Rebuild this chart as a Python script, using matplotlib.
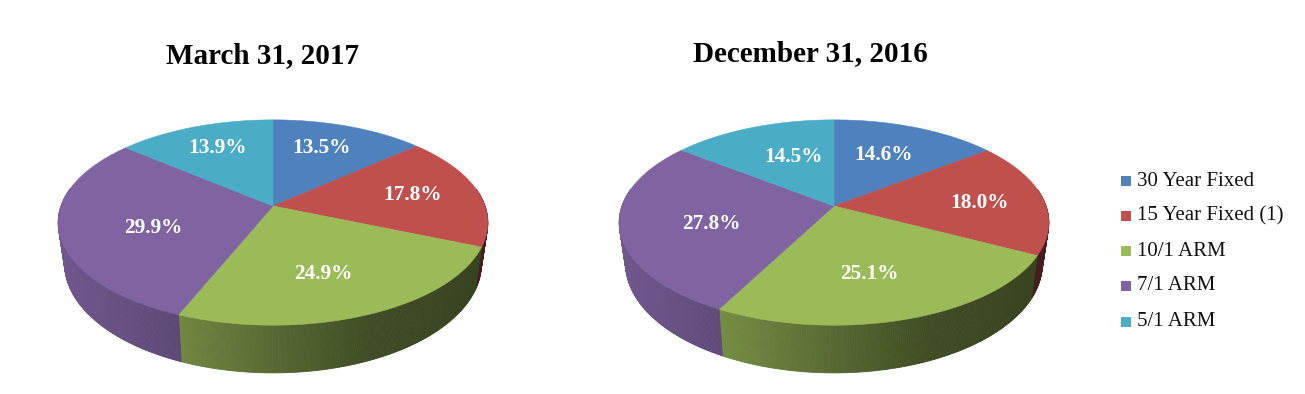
import matplotlib
matplotlib.use("Agg")
import matplotlib.pyplot as plt
import numpy as np

categories = ["30 Year Fixed", "15 Year Fixed (1)", "10/1 ARM", "7/1 ARM", "5/1 ARM"]
march_2017 = [13.5, 17.8, 24.9, 29.9, 13.9]
december_2016 = [14.6, 18.0, 25.1, 27.8, 14.5]
titles = ["March 31, 2017", "December 31, 2016"]

colors = ["#4f81bd", "#c0504d", "#9bbb59", "#8064a2", "#4bacc6"]

# layout, in pixels of the 1305x394 picture
W, H = 1305, 394
centers = [(273, 206), (834, 206)]
title_xy = [(263, 56), (810, 54)]
label_xy = [
    [(322, 148), (413, 195), (323, 274), (153, 228), (218, 148)],
    [(883, 155), (980, 203), (869, 274), (711, 224), (793, 157)],
]
legend_y = [181, 216, 251, 286, 322]
RX, RY, PERSP, DEPTH = 212, 100, 0.161, 40
SERIF = "Liberation Serif"


def project(cx, cy, theta, depth=0.0, shrink=1.0):
    # theta in degrees, clockwise from the top of the pie
    t = np.radians(theta)
    w = 1 + PERSP * np.cos(t)
    x = cx + shrink * RX * np.sin(t) / w
    y = cy + (-RY * np.cos(t) + depth) / w
    return x, y


def shade(x, cx):
    # the side of the pie gets darker from left to right
    t = (x - (cx - RX)) / (2 * RX)
    return np.interp(t, [0, 0.28, 0.56, 0.73, 1], [0.87, 0.72, 0.52, 0.41, 0.36])


def draw_pie(ax, values, cx, cy):
    edges = np.cumsum([0] + list(values)) / sum(values) * 360

    # side walls first, in thin strips so the shading looks continuous
    for i, color in enumerate(colors):
        a0, a1 = max(edges[i], 80), min(edges[i + 1], 280)
        if a1 <= a0:
            continue
        steps = np.arange(a0, a1 + 0.5, 0.5)
        for s0, s1 in zip(steps[:-1], steps[1:]):
            arc = np.array([s0, s1])
            xt, yt = project(cx, cy, arc)
            xb, yb = project(cx, cy, arc, DEPTH, 0.97)
            c = np.array(matplotlib.colors.to_rgb(color)) * shade(xt.mean(), cx)
            ax.fill([xt[0], xt[1], xb[1], xb[0]], [yt[0], yt[1], yb[1], yb[0]],
                    color=c, lw=0.6, zorder=1)

    # top face
    for i, color in enumerate(colors):
        arc = np.linspace(edges[i], edges[i + 1], 120)
        x, y = project(cx, cy, arc)
        ax.fill(np.r_[cx, x], np.r_[cy, y], color=color, lw=0.4, zorder=2)


fig = plt.figure(figsize=(W / 100, H / 100), dpi=100, facecolor="white")
ax = fig.add_axes([0, 0, 1, 1])
ax.set_xlim(0, W)
ax.set_ylim(H, 0)
ax.axis("off")

for k, values in enumerate([march_2017, december_2016]):
    cx, cy = centers[k]
    draw_pie(ax, values, cx, cy)
    ax.text(*title_xy[k], titles[k], family=SERIF, weight="bold", fontsize=21,
            ha="center", va="center", color="black")
    for v, (lx, ly) in zip(values, label_xy[k]):
        ax.text(lx, ly, f"{v:.1f}%", family=SERIF, weight="bold", fontsize=15.3,
                ha="center", va="center", color="white", zorder=3)

for name, color, y in zip(categories, colors, legend_y):
    ax.fill([1121, 1131, 1131, 1121], [y - 5, y - 5, y + 5, y + 5], color=color, lw=0)
    ax.text(1137, y, name, family=SERIF, fontsize=15, ha="left", va="center",
            color="#111111")

fig.savefig("out.png", dpi=100)
plt.close(fig)
